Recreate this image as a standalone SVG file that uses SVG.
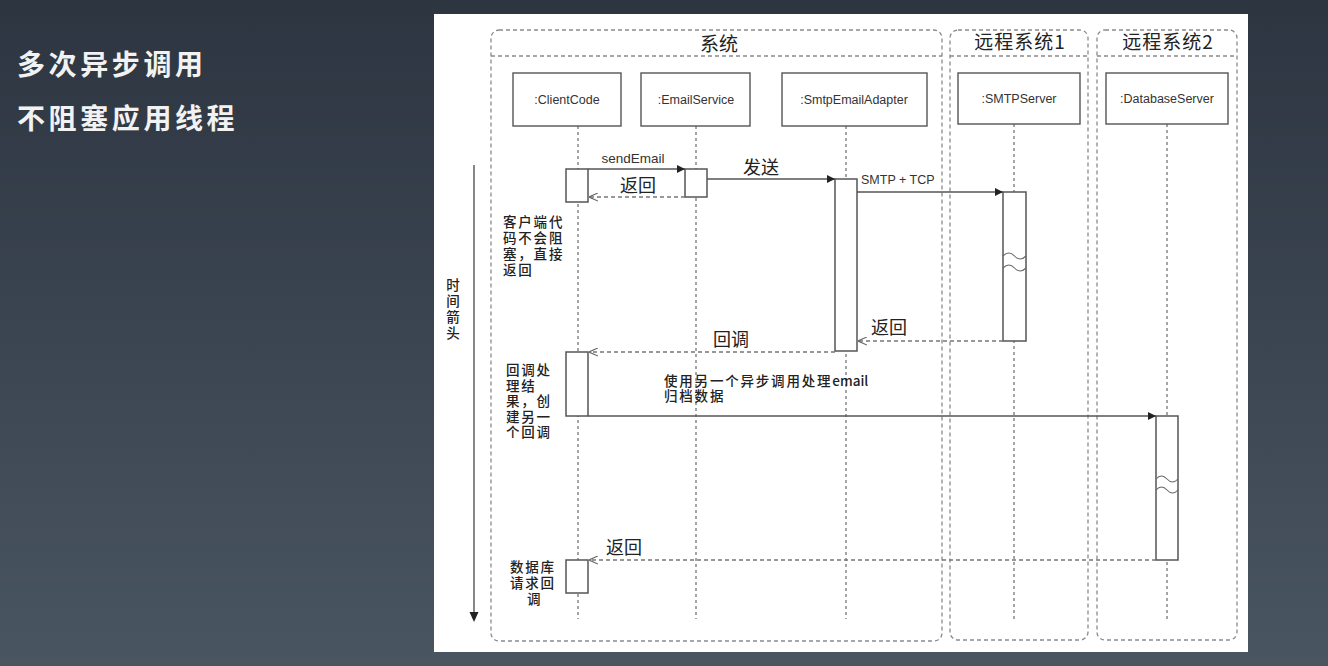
<svg xmlns="http://www.w3.org/2000/svg" width="1328" height="666" viewBox="0 0 1328 666">
<defs>
<linearGradient id="bg" x1="0" y1="0" x2="0" y2="1">
<stop offset="0" stop-color="#2c3540"/>
<stop offset="1" stop-color="#4a5562"/>
</linearGradient>
<marker id="fill" viewBox="0 0 10 10" refX="10" refY="5" markerWidth="9" markerHeight="8" markerUnits="userSpaceOnUse" orient="auto"><path d="M0,0 L10,5 L0,10 z" fill="#222"/></marker>
<marker id="open" viewBox="0 0 10 10" refX="10" refY="5" markerWidth="9" markerHeight="9" markerUnits="userSpaceOnUse" orient="auto"><path d="M0,0.5 L10,5 L0,9.5" fill="none" stroke="#666" stroke-width="1.3"/></marker>
<style>
.frame{fill:none;stroke:#8a8a8a;stroke-width:1.3;stroke-dasharray:4 3}
.life{fill:none;stroke:#6a6a6a;stroke-width:1.2;stroke-dasharray:3 3}
.obj{fill:#fff;stroke:#555;stroke-width:1.4}
.act{fill:#fff;stroke:#555;stroke-width:1.5}
.call{fill:none;stroke:#555;stroke-width:1.4;marker-end:url(#fill)}
.ret{fill:none;stroke:#777;stroke-width:1.3;stroke-dasharray:4 3;marker-end:url(#open)}
.wave{fill:none;stroke:#666;stroke-width:1.1}
.lat{font-family:"Liberation Sans",Arial,sans-serif;fill:#333}
.cjk{font-family:"Noto Sans CJK SC","Noto Sans",sans-serif;fill:#222}
.note{font-family:"Noto Sans CJK SC","Noto Sans",sans-serif;fill:#222;font-size:13.5px;letter-spacing:1.8px;font-weight:500}
.title{font-family:"Noto Sans CJK SC","Noto Sans",sans-serif;fill:#f2f2f2;font-size:28px;font-weight:600;letter-spacing:3.6px}
</style>
</defs>
<rect width="1328" height="666" fill="url(#bg)"/>
<text class="title" x="17" y="75">多次异步调用</text>
<text class="title" x="17" y="129">不阻塞应用线程</text>
<rect x="434" y="14" width="814" height="638" fill="#fff"/>

<g id="frames">
<rect class="frame" x="491" y="30" width="451" height="611" rx="8"/>
<line class="frame" x1="491" y1="56" x2="942" y2="56"/>
<text class="cjk" x="719" y="51" font-size="19" text-anchor="middle">系统</text>
<rect class="frame" x="950" y="30" width="138" height="610" rx="8"/>
<line class="frame" x1="950" y1="56" x2="1088" y2="56"/>
<text class="cjk" x="1020" y="49" font-size="19" text-anchor="middle" letter-spacing="1">远程系统1</text>
<rect class="frame" x="1097" y="30" width="140" height="610" rx="8"/>
<line class="frame" x1="1097" y1="56" x2="1237" y2="56"/>
<text class="cjk" x="1168" y="49" font-size="19" text-anchor="middle" letter-spacing="1">远程系统2</text>
</g>

<g id="time">
<line x1="474" y1="165" x2="474" y2="614" stroke="#555" stroke-width="1.4"/>
<path d="M469.5,612 L478.5,612 L474,622 z" fill="#222"/>
<text class="note" text-anchor="middle" letter-spacing="0"><tspan x="454" y="290">时</tspan><tspan x="454" y="306">间</tspan><tspan x="454" y="322">箭</tspan><tspan x="454" y="338">头</tspan></text>
</g>

<g id="lifelines">
<line class="life" x1="578" y1="126" x2="578" y2="619"/>
<line class="life" x1="696" y1="126" x2="696" y2="619"/>
<line class="life" x1="846" y1="126" x2="846" y2="619"/>
<line class="life" x1="1014" y1="124" x2="1014" y2="620"/>
<line class="life" x1="1167" y1="124" x2="1167" y2="620"/>
</g>

<g id="clientcode">
<rect class="obj" x="513" y="73" width="108" height="53"/>
<text class="lat" x="567" y="104" font-size="12.5" text-anchor="middle">:ClientCode</text>
</g>
<g id="emailservice">
<rect class="obj" x="641" y="73" width="109" height="53"/>
<text class="lat" x="696" y="104" font-size="12.5" text-anchor="middle">:EmailService</text>
</g>
<g id="smtpemailadapter">
<rect class="obj" x="782" y="73" width="145" height="53"/>
<text class="lat" x="854" y="104" font-size="12.5" text-anchor="middle">:SmtpEmailAdapter</text>
</g>
<g id="smtpserver">
<rect class="obj" x="958" y="73" width="122" height="51"/>
<text class="lat" x="1019" y="103" font-size="12.5" text-anchor="middle">:SMTPServer</text>
</g>
<g id="databaseserver">
<rect class="obj" x="1106" y="73" width="122" height="51"/>
<text class="lat" x="1167" y="103" font-size="12.5" text-anchor="middle">:DatabaseServer</text>
</g>

<g id="activations">
<rect class="act" x="566" y="169" width="22" height="33"/>
<rect class="act" x="685" y="169" width="22" height="28"/>
<rect class="act" x="835" y="179" width="22" height="172"/>
<rect class="act" x="1003" y="192" width="23" height="149"/>
<path class="wave" d="M1003,256 q6,-6 11.5,0 t11.5,0 M1003,268 q6,-6 11.5,0 t11.5,0"/>
<rect class="act" x="566" y="352" width="22" height="64"/>
<rect class="act" x="1156" y="416" width="22" height="144"/>
<path class="wave" d="M1156,479 q5.5,-6 11,0 t11,0 M1156,490 q5.5,-6 11,0 t11,0"/>
<rect class="act" x="566" y="560" width="22" height="33"/>
</g>

<g id="connectors">
<line class="call" x1="588" y1="169" x2="685" y2="169"/>
<line class="ret" x1="685" y1="197" x2="589" y2="197"/>
<line class="call" x1="707" y1="179" x2="835" y2="179"/>
<line class="call" x1="857" y1="192" x2="1003" y2="192"/>
<line class="ret" x1="1003" y1="341" x2="858" y2="341"/>
<line class="ret" x1="835" y1="352" x2="589" y2="352"/>
<line class="call" x1="588" y1="416" x2="1156" y2="416"/>
<line class="ret" x1="1156" y1="560" x2="589" y2="560"/>
</g>

<g id="labels">
<text class="lat" x="633" y="163" font-size="13.5" text-anchor="middle">sendEmail</text>
<text class="cjk" x="638" y="192" font-size="18" text-anchor="middle">返回</text>
<text class="cjk" x="761" y="174" font-size="18" text-anchor="middle">发送</text>
<text class="lat" x="861" y="184" font-size="12.5">SMTP + TCP</text>
<text class="cjk" x="871" y="334" font-size="18">返回</text>
<text class="cjk" x="731" y="346" font-size="18" text-anchor="middle">回调</text>
<text class="note" x="664" y="386" font-size="14">使用另一个异步调用处理<tspan letter-spacing="0">email</tspan></text>
<text class="note" x="664" y="401" font-size="14">归档数据</text>
<text class="cjk" x="606" y="554" font-size="18">返回</text>
</g>

<g id="notes">
<text class="note"><tspan x="503" y="227">客户端代</tspan><tspan x="503" y="243">码不会阻</tspan><tspan x="503" y="259">塞，直接</tspan><tspan x="503" y="275">返回</tspan></text>
<text class="note"><tspan x="506" y="375">回调处</tspan><tspan x="506" y="390.5">理结</tspan><tspan x="506" y="406">果，创</tspan><tspan x="506" y="421.5">建另一</tspan><tspan x="506" y="437">个回调</tspan></text>
<text class="note"><tspan x="510" y="572">数据库</tspan><tspan x="510" y="588">请求回</tspan><tspan x="527" y="604">调</tspan></text>
</g>
</svg>
